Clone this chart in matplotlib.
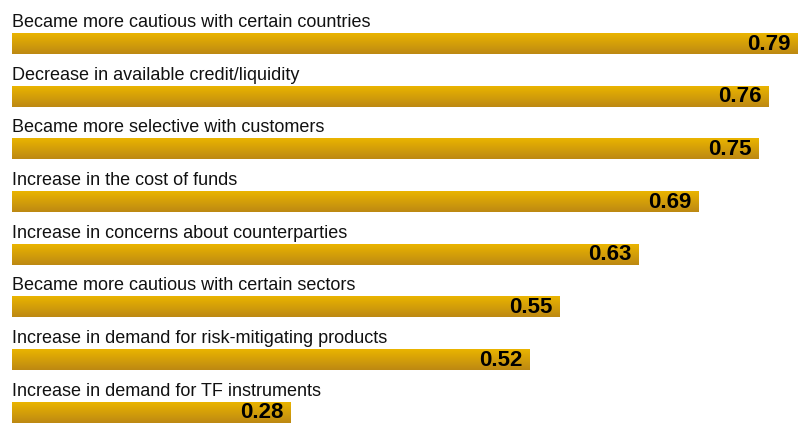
import numpy as np
import matplotlib
matplotlib.use('Agg')
import matplotlib.pyplot as plt
from matplotlib.colors import LinearSegmentedColormap

plt.rcParams['font.family'] = ['Liberation Sans', 'DejaVu Sans']

# 数据
labels = [
    'Became more cautious with certain countries',
    'Decrease in available credit/liquidity',
    'Became more selective with customers',
    'Increase in the cost of funds',
    'Increase in concerns about counterparties',
    'Became more cautious with certain sectors',
    'Increase in demand for risk-mitigating products',
    'Increase in demand for TF instruments',
]
values = [0.79, 0.76, 0.75, 0.69, 0.63, 0.55, 0.52, 0.28]

W, H = 798, 423
fig = plt.figure(figsize=(W / 100, H / 100), dpi=100)
# 坐标轴: x 为数值, y 为像素行
x0 = 12 / W
ax = fig.add_axes([x0, 0, 786 / W, 1])
ax.set_xlim(0, max(values))
ax.set_ylim(H, 0)
ax.axis('off')

cmap = LinearSegmentedColormap.from_list('gold', ['#EAB400', '#BD8913'])
grad = np.linspace(0, 1, 64).reshape(-1, 1)

row_h = 52.7
bar_top0 = 33
bar_h = 21

for i, (lab, v) in enumerate(zip(labels, values)):
    top = bar_top0 + i * row_h
    ax.imshow(grad, cmap=cmap, aspect='auto', interpolation='bilinear',
              extent=(0, v, top + bar_h, top), zorder=1)
    ax.text(0, top - 6, lab, fontsize=13, color='#111111', va='baseline', ha='left')
    ax.text(v - 0.007, top + bar_h / 2 + 0.5, f'{v:.2f}', fontsize=16, fontweight='bold',
            color='#000000', va='center', ha='right', zorder=2)

ax.set_xlim(0, max(values))
ax.set_ylim(H, 0)
fig.savefig('out.png', dpi=100)
